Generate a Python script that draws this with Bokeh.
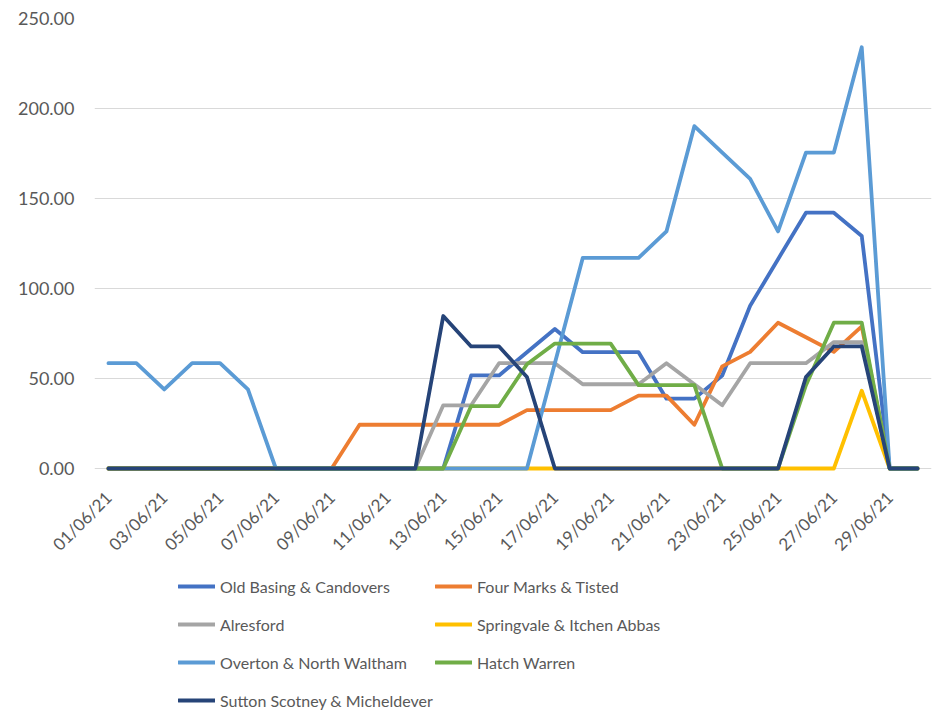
import math
from bokeh.plotting import figure
from bokeh.layouts import column
from bokeh.models import (Range1d, FixedTicker, NumeralTickFormatter, Legend,
                          LegendItem, ColumnDataSource)
from bokeh.embed import file_html
from bokeh.resources import INLINE

dates = ["01/06/21", "02/06/21", "03/06/21", "04/06/21", "05/06/21", "06/06/21",
         "07/06/21", "08/06/21", "09/06/21", "10/06/21", "11/06/21", "12/06/21",
         "13/06/21", "14/06/21", "15/06/21", "16/06/21", "17/06/21", "18/06/21",
         "19/06/21", "20/06/21", "21/06/21", "22/06/21", "23/06/21", "24/06/21",
         "25/06/21", "26/06/21", "27/06/21", "28/06/21", "29/06/21", "30/06/21"]

old_basing = [0, 0, 0, 0, 0, 0, 0, 0, 0, 0, 0, 0, 0, 51.7, 51.7, 64.6, 77.5, 64.6,
              64.6, 64.6, 38.8, 38.8, 51.7, 90.4, 116.3, 142.1, 142.1, 129.2, 0, 0]
four_marks = [0, 0, 0, 0, 0, 0, 0, 0, 0, 24.3, 24.3, 24.3, 24.3, 24.3, 24.3, 32.4,
              32.4, 32.4, 32.4, 40.5, 40.5, 24.3, 56.7, 64.8, 81.0, 72.9, 64.8, 79.0, 0, 0]
alresford = [0, 0, 0, 0, 0, 0, 0, 0, 0, 0, 0, 0, 35.1, 35.1, 58.5, 58.5, 58.5, 46.8,
             46.8, 46.8, 58.5, 46.8, 35.1, 58.5, 58.5, 58.5, 70.2, 70.2, 0, 0]
springvale = [0, 0, 0, 0, 0, 0, 0, 0, 0, 0, 0, 0, 0, 0, 0, 0, 0, 0,
              0, 0, 0, 0, 0, 0, 0, 0, 0, 43.2, 0, 0]
overton = [58.5, 58.5, 43.9, 58.5, 58.5, 43.9, 0, 0, 0, 0, 0, 0, 0, 0, 0, 0, 58.5,
           117.0, 117.0, 117.0, 131.7, 190.2, 175.5, 160.9, 131.7, 175.5, 175.5, 234.0, 0, 0]
hatch_warren = [0, 0, 0, 0, 0, 0, 0, 0, 0, 0, 0, 0, 0, 34.7, 34.7, 57.9, 69.4, 69.4,
                69.4, 46.3, 46.3, 46.3, 0, 0, 0, 46.3, 81.0, 81.0, 0, 0]
sutton = [0, 0, 0, 0, 0, 0, 0, 0, 0, 0, 0, 0, 84.7, 67.8, 67.8, 50.8, 0, 0,
          0, 0, 0, 0, 0, 0, 0, 50.8, 67.8, 67.8, 0, 0]

series_names = ["Old Basing & Candovers", "Four Marks & Tisted", "Alresford",
                "Springvale & Itchen Abbas", "Overton & North Waltham", "Hatch Warren",
                "Sutton Scotney & Micheldever"]
series_values = [old_basing, four_marks, alresford, springvale, overton, hatch_warren, sutton]
colors = ["#4472C4", "#ED7D31", "#A5A5A5", "#FFC000", "#5B9BD5", "#70AD47", "#264478"]
y_ticks = [0, 50, 100, 150, 200, 250]

FONT = "Lato"
TXT = "#595959"
LW = 3.8

x_idx = list(range(len(dates)))

# ---- main chart ----
p = figure(width=935, height=569, output_backend="svg", toolbar_location=None,
           x_range=Range1d(-0.5, len(dates) - 0.5), y_range=Range1d(-5, 250),
           min_border_left=94, min_border_right=4, min_border_top=18,
           min_border_bottom=92)
p.outline_line_color = None
p.background_fill_color = "white"
p.border_fill_color = "white"

for name, vals, c in zip(series_names, series_values, colors):
    src = ColumnDataSource(dict(x=x_idx, y=vals))
    p.line("x", "y", source=src, line_color=c, line_width=LW,
           line_join="round", line_cap="round")

p.xaxis.ticker = FixedTicker(ticks=x_idx[::2])
p.xaxis.major_label_overrides = {i: dates[i] for i in x_idx}
p.xaxis.major_label_orientation = math.pi / 4
p.yaxis.ticker = FixedTicker(ticks=y_ticks)
p.yaxis.formatter = NumeralTickFormatter(format="0.00")
for ax in (p.xaxis[0], p.yaxis[0]):
    ax.axis_line_color = None
    ax.major_tick_line_color = None
    ax.minor_tick_line_color = None
    ax.major_label_text_font = FONT
    ax.major_label_text_color = TXT
p.yaxis.major_label_text_font_size = "18px"
p.xaxis.major_label_text_font_size = "17px"
p.yaxis.major_label_standoff = 14
p.xaxis.major_label_standoff = 11

p.xgrid.grid_line_color = None
p.ygrid.ticker = FixedTicker(ticks=y_ticks)
p.ygrid.grid_line_color = "#D9D9D9"
p.ygrid.grid_line_width = 1

# ---- legend strip (swatch lines lie outside its visible ranges) ----
lg = figure(width=935, height=142, output_backend="svg", toolbar_location=None,
            x_range=Range1d(0, 1), y_range=Range1d(0, 1),
            x_axis_location=None, y_axis_location=None,
            min_border_left=0, min_border_right=0, min_border_top=0,
            min_border_bottom=0)
lg.outline_line_color = None
lg.grid.visible = False

items = []
for name, c in zip(series_names, colors):
    r = lg.line(x=[5, 6], y=[5, 5], line_color=c, line_width=LW, line_cap="round")
    items.append(LegendItem(label=name, renderers=[r]))

common = dict(label_text_font=FONT, label_text_font_size="16px",
              label_text_color=TXT, glyph_width=37, glyph_height=20,
              label_height=20, label_standoff=5, spacing=18, padding=0,
              margin=0, border_line_color=None, background_fill_alpha=0,
              orientation="vertical")
leg1 = Legend(items=items[0::2], location=(84, 1), **common)
leg2 = Legend(items=items[1::2], location=(341, 39), **common)
lg.add_layout(leg1, "center")
lg.add_layout(leg2, "center")

layout = column(p, lg, spacing=0)
open("out.html", "w").write(file_html(layout, INLINE))
